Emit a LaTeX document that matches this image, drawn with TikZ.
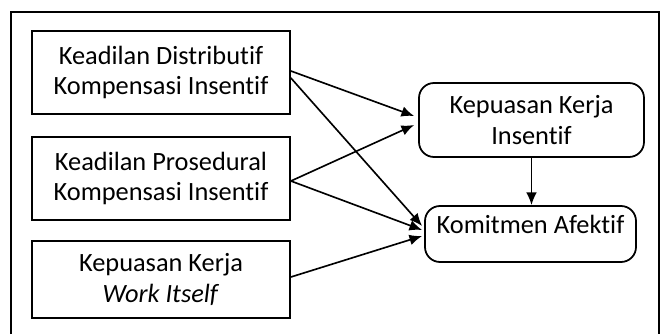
\documentclass[tikz,border=0pt]{standalone}
\usepackage{fontspec}
\setmainfont{Carlito}[Ligatures=NoCommon]
\usetikzlibrary{arrows.meta}
\usetikzlibrary{calc}
\usetikzlibrary{positioning}

\begin{document}
\begin{tikzpicture}[x=0.03cm,y=-0.03cm,every path/.style={>={Latex[length=0.38cm,width=0.32cm]}}]
	\tikzset{
		varbox/.style={draw,line width=1.5pt,rectangle,align=center,minimum width=7.74cm,
			font=\fontsize{22.5}{26}\selectfont,inner sep=0pt},
		outbox/.style={draw,line width=1.5pt,rectangle,rounded corners=0.45cm,align=center,
			font=\fontsize{22.5}{26}\selectfont,inner sep=0pt},
		link/.style={->,line width=1.4pt}
	}
	\useasboundingbox (0,0) rectangle (668,334);

	% draw frame, open at the bottom
	\draw[line width=1pt] (11,334) -- (11,12) -- (659,12) -- (659,334);

	% draw left boxes
	\node (distributif) at (161,72.5) [varbox,minimum height=2.49cm] {Keadilan Distributif\\Kompensasi Insentif};
	\node (prosedural) at (161,178.5) [varbox,minimum height=2.49cm] {Keadilan Prosedural\\Kompensasi Insentif};
	\node (workitself) at (161,279.5) [varbox,minimum height=2.31cm] {Kepuasan Kerja\\\textit{Work Itself}};

	% draw right boxes
	\node (insentif) at (531.5,120) [outbox,minimum width=6.75cm,minimum height=2.22cm] {Kepuasan Kerja\\Insentif};
	\node (afektif) at (530.5,234) [outbox,minimum width=6.33cm,text height=0.81cm,text depth=0.87cm] {Komitmen Afektif};

	% draw lines to kepuasan kerja insentif
	\draw[link] ($(distributif.east)+(0,-1.5)$) to ($(insentif.west)+(-4,-4)$);
	\draw[link] ($(prosedural.east)+(0,2.5)$) to ($(insentif.west)+(-4,5)$);

	% draw lines to komitmen afektif
	\draw[link] ($(distributif.east)+(0,5.5)$) to ($(afektif.west)+(-2,-8)$);
	\draw[link] ($(prosedural.east)+(0,2.5)$) to ($(afektif.west)+(-2,-4)$);
	\draw[link] ($(workitself.east)+(0,-2.5)$) to ($(afektif.west)+(-2,2)$);
	\draw[link] (insentif.south) to (insentif.south |- afektif.north);
\end{tikzpicture}
\end{document}
